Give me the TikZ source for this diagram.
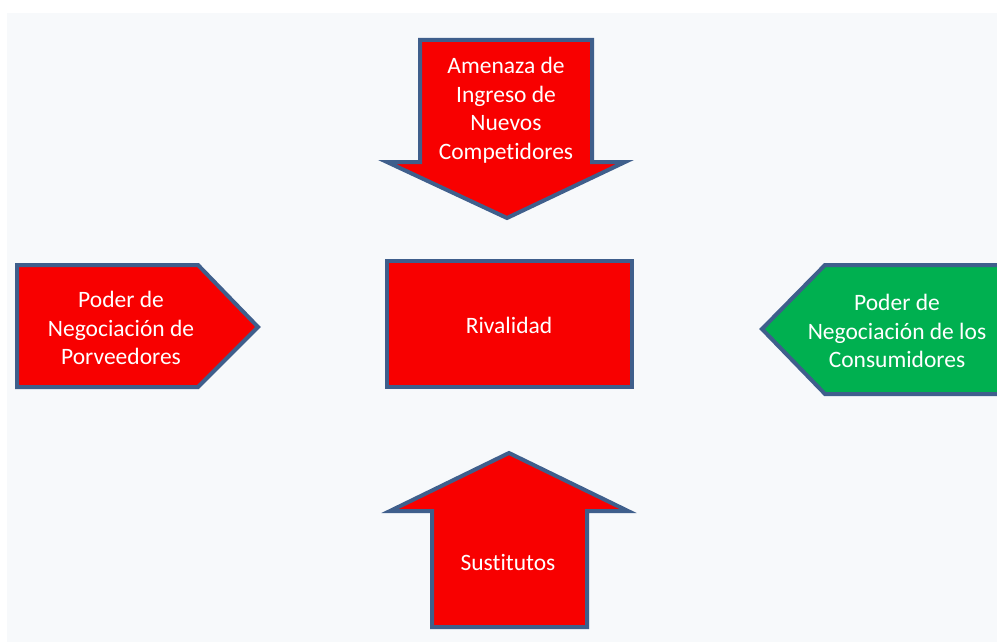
\documentclass[tikz,border=0pt]{standalone}
\usepackage{fontspec}
\setmainfont{Carlito}[Ligatures=NoCommon]
\definecolor{bgc}{HTML}{F7F9FB}
\definecolor{edgec}{HTML}{3F5F8C}
\definecolor{redf}{HTML}{F80000}
\definecolor{greenf}{HTML}{00B050}
\tikzset{
  shapebox/.style={draw=edgec, line width=4pt, line join=miter, fill=redf},
  lbl/.style={text=white, align=center, font=\fontsize{23.5}{28.5}\selectfont, inner sep=0pt}
}
\begin{document}
\begin{tikzpicture}[x=1pt,y=-1pt]
\useasboundingbox (0,0) rectangle (997,642);
\fill[white] (0,0) rectangle (997,642);
\fill[bgc] (7,13) rectangle (997,642);
% top arrow
\draw[shapebox] (420,40) -- (592,40) -- (592,162) -- (625,162) -- (507,218) -- (387,162) -- (420,162) -- cycle;
\node[lbl] (top) at (506,110) {Amenaza de\\Ingreso de\\Nuevos\\Competidores};
% left pentagon
\draw[shapebox] (17,265) -- (198,265) -- (258,327) -- (198,387) -- (17,387) -- cycle;
\node[lbl] (left) at (121,328) {Poder de\\Negociación de\\Porveedores};
% right pentagon
\draw[shapebox, fill=greenf] (1000,265) -- (825,265) -- (762,329) -- (825,394) -- (1000,394);
\node[lbl] (right) at (897,331) {Poder de\\Negociación de los\\Consumidores};
% center
\draw[shapebox] (387,261) rectangle (632,387);
\node[lbl] (riv) at (509,325) {Rivalidad};
% bottom arrow
\draw[shapebox] (432,627) -- (587,627) -- (587,511) -- (628,511) -- (509,453) -- (390,511) -- (432,511) -- cycle;
\node[lbl] (sus) at (508,562) {Sustitutos};
\end{tikzpicture}
\end{document}
